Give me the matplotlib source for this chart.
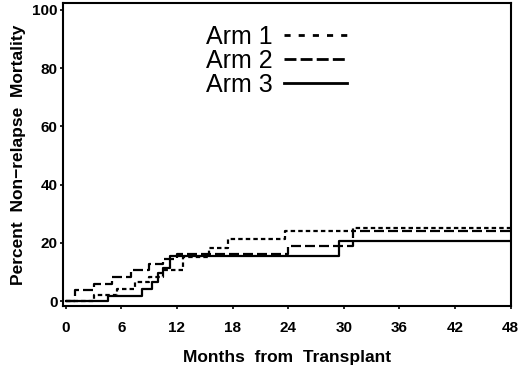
import matplotlib
matplotlib.use("Agg")
import matplotlib.pyplot as plt
from matplotlib.lines import Line2D

# step times (months) and cumulative incidence (%)
ARM1_T = [0, 3.0, 5.5, 7.5, 9.0, 10.5, 12.7, 15.5, 17.5, 23.7, 31.0, 48]
ARM1_Y = [0, 2.0, 4.2, 6.5, 8.4, 10.6, 15.2, 18.1, 21.2, 24.2, 25.2, 25.2]
ARM2_T = [0, 1.0, 3.0, 5.0, 7.0, 9.0, 10.5, 12.0, 24.0, 31.0, 48]
ARM2_Y = [0, 3.8, 5.8, 8.4, 10.5, 12.7, 14.5, 16.0, 19.0, 24.2, 24.2]
ARM3_T = [0, 4.6, 8.2, 9.3, 10.0, 10.5, 11.3, 29.5, 48]
ARM3_Y = [0, 1.7, 4.3, 6.6, 9.8, 11.5, 15.5, 20.6, 20.6]
LABELS = ["Arm 1", "Arm 2", "Arm 3"]

XTICKS = [0, 6, 12, 18, 24, 30, 36, 42, 48]
YTICKS = [0, 20, 40, 60, 80, 100]

plt.rcParams.update({
    "font.family": ["Liberation Sans", "DejaVu Sans"],
    "axes.linewidth": 1.5,
})

fig = plt.figure(figsize=(5.2, 3.68), dpi=100)
ax = fig.add_axes([63 / 520, 1 - 306 / 368, 448 / 520, 303 / 368])

ax.step(ARM1_T, ARM1_Y, where="post", color="black", lw=1.6, dashes=(2.0, 1.4))
ax.step(ARM2_T, ARM2_Y, where="post", color="black", lw=1.6, dashes=(4.5, 1.8))
ax.step(ARM3_T, ARM3_Y, where="post", color="black", lw=1.6)

ax.set_xlim(-0.3, 48.05)
ax.set_ylim(-1.7, 102.4)
ax.set_xticks(XTICKS)
ax.set_yticks(YTICKS)
ax.tick_params(axis="both", direction="out", length=2.5, width=1.2,
               labelsize=11)
ax.tick_params(axis="x", pad=8)
ax.tick_params(axis="y", pad=1.5)
for lab in ax.get_xticklabels() + ax.get_yticklabels():
    lab.set_fontweight("bold")

ax.set_xlabel("Months  from  Transplant", fontsize=12.5, fontweight="bold",
              labelpad=11)
ax.set_ylabel("Percent  Non\u2212relapse  Mortality", fontsize=12.5,
              fontweight="bold", labelpad=4)

# legend samples are drawn coarser than the curves, as in the original
handles = [
    Line2D([], [], color="black", lw=2, dashes=(2.2, 2.9)),
    Line2D([], [], color="black", lw=2, dashes=(4.3, 1.5)),
    Line2D([], [], color="black", lw=2),
]
ax.legend(handles, LABELS, loc="upper left",
          bbox_to_anchor=(206 / 520, 1 - 25 / 368),
          bbox_transform=fig.transFigure, frameon=False, markerfirst=False,
          fontsize=18, handlelength=2.5, handletextpad=0.45,
          labelspacing=0.0, borderpad=0, borderaxespad=0)

fig.savefig("out.png", dpi=100)
